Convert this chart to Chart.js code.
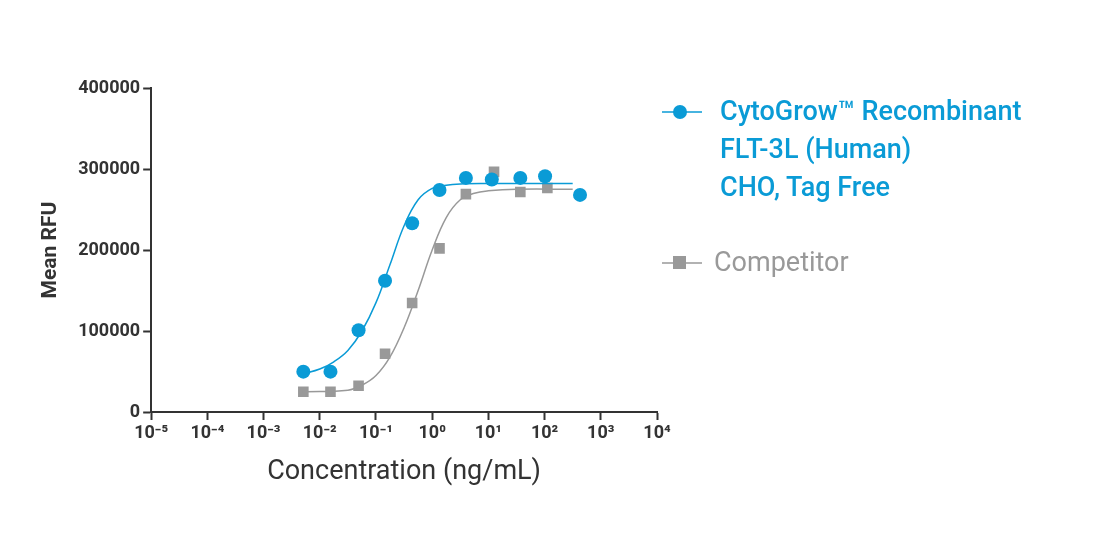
<!DOCTYPE html>
<html><head><meta charset="utf-8">
<script src="https://cdn.jsdelivr.net/npm/chart.js@4"></script>
<style>
body{margin:0;background:#fff;font-family:Roboto,sans-serif}
#wrap{position:absolute;left:0;top:0;width:700px;height:534px}
.lg{position:absolute;font-family:Roboto;font-size:27px;line-height:38px}
</style></head><body>
<div id="wrap"><canvas id="c"></canvas></div>
<div class="lg" style="left:660px;top:92px;color:#0a9bd6;font-weight:500">
<svg width="50" height="36" style="position:absolute;left:0;top:2px"><line x1="2" y1="18" x2="42" y2="18" stroke="#0a9bd6" stroke-width="1.5"/><circle cx="20" cy="18" r="7" fill="#0a9bd6"/></svg>
<div style="margin-left:60px">CytoGrow™ Recombinant<br>FLT-3L (Human)<br>CHO, Tag Free</div></div>
<div class="lg" style="left:660px;top:243px;color:#999">
<svg width="50" height="36" style="position:absolute;left:0;top:2px"><line x1="2" y1="18" x2="42" y2="18" stroke="#999" stroke-width="1.5"/><rect x="13" y="11" width="13" height="13" fill="#999"/></svg>
<div style="margin-left:54px">Competitor</div></div>
<script>
const blueX=[0.0051,0.0155,0.049,0.145,0.44,1.35,3.98,11.5,37,102,427];
const blueY=[49800,49800,101000,162000,233000,274000,289000,287000,289000,291000,268000];
const grayX=[0.0051,0.0155,0.049,0.145,0.44,1.35,3.98,12.6,37,112];
const grayY=[25000,25000,32400,72000,134600,202000,269000,296600,271600,276600];
const blueFitLogX=[-2.3,-2,-1.75,-1.5,-1.25,-1,-0.75,-0.5,-0.25,0,0.25,0.5,1,1.5,2.5];
const blueFitY=[47000,53000,62000,76000,100000,135000,182000,230000,262000,276000,280000,281500,282000,282000,282000];
const grayFitLogX=[-2.3,-1.5,-1.25,-1,-0.75,-0.5,-0.25,0,0.25,0.5,0.75,1,1.5,2.5];
const grayFitY=[25000,27000,33000,45000,68000,104000,150000,200000,240000,262000,270000,273000,275000,275000];
const xTicks=[-5,-4,-3,-2,-1,0,1,2,3,4];
const sup={'-':'⁻','0':'⁰','1':'¹','2':'²','3':'³','4':'⁴','5':'⁵'};
const tickLbl=e=>'10'+String(e).split('').map(c=>sup[c]).join('');
const pts=(xs,ys)=>xs.map((x,i)=>({x,y:ys[i]}));
const fit=(lx,ys)=>lx.map((l,i)=>({x:Math.pow(10,l),y:ys[i]}));
new Chart(document.getElementById('c'),{
 type:'scatter',
 data:{datasets:[
  {data:fit(blueFitLogX,blueFitY),showLine:true,borderColor:'#0a9bd6',borderWidth:1.5,pointRadius:0,tension:0.4},
  {data:fit(grayFitLogX,grayFitY),showLine:true,borderColor:'#999',borderWidth:1.5,pointRadius:0,tension:0.4},
  {data:pts(blueX,blueY),backgroundColor:'#0a9bd6',pointRadius:7,pointStyle:'circle',borderWidth:0},
  {data:pts(grayX,grayY),backgroundColor:'#999',pointRadius:7.5,pointStyle:'rect',borderWidth:0}
 ]},
 options:{responsive:true,maintainAspectRatio:false,animation:false,
  layout:{padding:{top:88,right:43,bottom:42,left:34}},
  plugins:{legend:{display:false},tooltip:{enabled:false}},
  scales:{
   x:{type:'logarithmic',min:1e-5,max:1e4,
    afterBuildTicks:a=>{a.ticks=xTicks.map(e=>({value:Math.pow(10,e)}));},
    ticks:{callback:v=>tickLbl(Math.round(Math.log10(v))),color:'#333',font:{family:'Roboto',size:18,weight:'bold'},maxRotation:0,autoSkip:false},
    grid:{display:true,drawOnChartArea:false,drawTicks:true,tickLength:8,tickColor:'#333',tickWidth:2},
    border:{color:'#333',width:2},
    title:{display:true,text:'Concentration (ng/mL)',color:'#333',font:{family:'Roboto',size:27},padding:{top:8}}},
   y:{min:0,max:400000,
    ticks:{stepSize:100000,callback:v=>String(v),color:'#333',font:{family:'Roboto',size:18,weight:'bold'}},
    grid:{display:true,drawOnChartArea:false,tickLength:8,tickColor:'#333',tickWidth:2},
    border:{color:'#333',width:2},
    title:{display:true,text:'Mean RFU',color:'#333',font:{family:'Roboto',size:21,weight:'bold'},padding:{bottom:12}}}
  }}
});
</script></body></html>
